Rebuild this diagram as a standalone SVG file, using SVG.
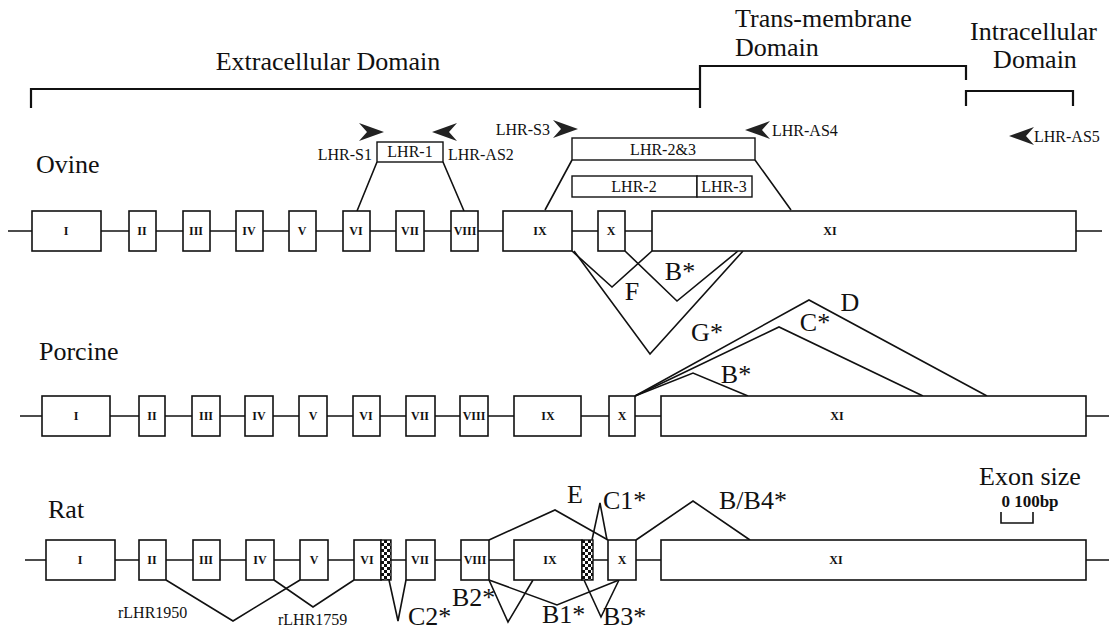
<svg xmlns="http://www.w3.org/2000/svg" xmlns:xlink="http://www.w3.org/1999/xlink" width="1112" height="631" viewBox="0 0 1112 631">
<style>
.big{font-family:"Liberation Serif","Times New Roman",serif;font-size:26px;fill:#111}
.pr{font-family:"Liberation Serif","Times New Roman",serif;font-size:16px;fill:#111}
.rn{font-family:"Liberation Serif","Times New Roman",serif;font-size:12px;font-weight:bold;fill:#111;text-anchor:middle}
.ex{fill:#fff;stroke:#111;stroke-width:1.6}
.ln{fill:none;stroke:#111;stroke-width:1.6}
.br{fill:none;stroke:#111;stroke-width:2.2}
.bx{fill:#fff;stroke:#111;stroke-width:1.4}
.hat{fill:url(#chk);stroke:#111;stroke-width:1.4}
</style>
<defs>
<pattern id="chk" width="6" height="6" patternUnits="userSpaceOnUse">
<rect width="6" height="6" fill="#fff"/>
<rect width="3" height="3" fill="#111"/>
<rect x="3" y="3" width="3" height="3" fill="#111"/>
</pattern>
<path id="arrR" d="M0,0 L-25,-9 L-17,0 L-25,9 Z" fill="#222"/>
<path id="arrL" d="M0,0 L25,-9 L17,0 L25,9 Z" fill="#222"/>
</defs>
<rect width="1112" height="631" fill="#fff"/>

<g id="domains">
<path class="br" d="M31,108 V89 H700"/>
<path class="br" d="M700,108 V66 H966 V80"/>
<path class="br" d="M966,106 V91 H1073 V106"/>
<text class="big" x="328" y="70" text-anchor="middle">Extracellular Domain</text>
<text class="big" x="735" y="27">Trans-membrane</text>
<text class="big" x="735" y="56">Domain</text>
<text class="big" x="970" y="40">Intracellular</text>
<text class="big" x="1035" y="68" text-anchor="middle">Domain</text>
</g>

<g id="primers">
<use xlink:href="#arrR" x="384" y="132"/>
<use xlink:href="#arrL" x="432" y="132"/>
<text class="pr" x="372" y="160" text-anchor="end">LHR-S1</text>
<text class="pr" x="448" y="160">LHR-AS2</text>
<text class="pr" x="550" y="135" text-anchor="end">LHR-S3</text>
<use xlink:href="#arrR" x="578" y="129"/>
<use xlink:href="#arrL" x="745" y="130"/>
<text class="pr" x="772" y="136">LHR-AS4</text>
<use xlink:href="#arrL" x="1009" y="136"/>
<text class="pr" x="1034" y="142">LHR-AS5</text>
</g>

<g id="probe-LHR-1">
<rect class="bx" x="377" y="142" width="66" height="20"/>
<text class="pr" x="410" y="157" text-anchor="middle">LHR-1</text>
</g>
<g id="probe-LHR-2and3">
<rect class="bx" x="572" y="138" width="183" height="22"/>
<text class="pr" x="663" y="155" text-anchor="middle">LHR-2&amp;3</text>
</g>
<g id="probe-LHR-2">
<rect class="bx" x="572" y="176" width="125" height="21"/>
<text class="pr" x="634" y="192" text-anchor="middle">LHR-2</text>
</g>
<g id="probe-LHR-3">
<rect class="bx" x="697" y="176" width="55" height="21"/>
<text class="pr" x="724" y="192" text-anchor="middle">LHR-3</text>
</g>

<text class="big" x="36" y="173">Ovine</text>
<text class="big" x="39" y="360">Porcine</text>
<text class="big" x="48" y="518">Rat</text>

<g id="connectors">
<path class="ln" d="M377,162 L357,211 M443,162 L464,211"/>
<path class="ln" d="M572,160 L545,210 M755,160 L791,210"/>
<path class="ln" d="M8,231 H1102"/>
<path class="ln" d="M20,416 H1109"/>
<path class="ln" d="M25,560 H1109"/>
<path class="ln" d="M572,251 L612,287 L652,251"/>
<path class="ln" d="M574,251 L650,354 L743,251"/>
<path class="ln" d="M625,251 L677,301 L738,251"/>
<path class="ln" d="M635,396 L693,373 L748,396"/>
<path class="ln" d="M635,396 L779,327 L923,396"/>
<path class="ln" d="M635,396 L809,300 L987,396"/>
<path class="ln" d="M166,580 L233,621 L300,580"/>
<path class="ln" d="M274,580 L313,607 L354,580"/>
<path class="ln" d="M389,580 L398,621 L406,580"/>
<path class="ln" d="M489,580 L508,622 L533,580"/>
<path class="ln" d="M489,580 L557,605 L619,580"/>
<path class="ln" d="M584,580 L601,617 L619,580"/>
<path class="ln" d="M489,540 L555,510 L608,540"/>
<path class="ln" d="M592,540 L600,503 L607,540"/>
<path class="ln" d="M636,540 L693,501 L750,540"/>
</g>

<g id="ovine-exons">
<g id="ov-I"><rect class="ex" x="32" y="211" width="69" height="40"/><text class="rn" x="66" y="235">I</text></g>
<g id="ov-II"><rect class="ex" x="129" y="211" width="27" height="40"/><text class="rn" x="142" y="235">II</text></g>
<g id="ov-III"><rect class="ex" x="183" y="211" width="27" height="40"/><text class="rn" x="196" y="235">III</text></g>
<g id="ov-IV"><rect class="ex" x="236" y="211" width="27" height="40"/><text class="rn" x="249" y="235">IV</text></g>
<g id="ov-V"><rect class="ex" x="289" y="211" width="27" height="40"/><text class="rn" x="302" y="235">V</text></g>
<g id="ov-VI"><rect class="ex" x="343" y="211" width="27" height="40"/><text class="rn" x="356" y="235">VI</text></g>
<g id="ov-VII"><rect class="ex" x="396" y="211" width="28" height="40"/><text class="rn" x="410" y="235">VII</text></g>
<g id="ov-VIII"><rect class="ex" x="451" y="211" width="27" height="40"/><text class="rn" x="465" y="235">VIII</text></g>
<g id="ov-IX"><rect class="ex" x="503" y="211" width="69" height="40"/><text class="rn" x="540" y="235">IX</text></g>
<g id="ov-X"><rect class="ex" x="598" y="211" width="27" height="40"/><text class="rn" x="611" y="235">X</text></g>
<g id="ov-XI"><rect class="ex" x="652" y="211" width="424" height="40"/><text class="rn" x="830" y="235">XI</text></g>
</g>

<g id="ovine-labels">
<text class="big" x="632" y="300" text-anchor="middle">F</text>
<text class="big" x="680" y="280" text-anchor="middle">B*</text>
<text class="big" x="707" y="341" text-anchor="middle">G*</text>
</g>

<g id="porcine-exons">
<g id="po-I"><rect class="ex" x="42" y="396" width="68" height="40"/><text class="rn" x="76" y="420">I</text></g>
<g id="po-II"><rect class="ex" x="139" y="396" width="26" height="40"/><text class="rn" x="152" y="420">II</text></g>
<g id="po-III"><rect class="ex" x="192" y="396" width="28" height="40"/><text class="rn" x="206" y="420">III</text></g>
<g id="po-IV"><rect class="ex" x="245" y="396" width="28" height="40"/><text class="rn" x="259" y="420">IV</text></g>
<g id="po-V"><rect class="ex" x="299" y="396" width="28" height="40"/><text class="rn" x="313" y="420">V</text></g>
<g id="po-VI"><rect class="ex" x="353" y="396" width="27" height="40"/><text class="rn" x="366" y="420">VI</text></g>
<g id="po-VII"><rect class="ex" x="406" y="396" width="29" height="40"/><text class="rn" x="420" y="420">VII</text></g>
<g id="po-VIII"><rect class="ex" x="460" y="396" width="28" height="40"/><text class="rn" x="474" y="420">VIII</text></g>
<g id="po-IX"><rect class="ex" x="514" y="396" width="67" height="40"/><text class="rn" x="548" y="420">IX</text></g>
<g id="po-X"><rect class="ex" x="609" y="396" width="26" height="40"/><text class="rn" x="622" y="420">X</text></g>
<g id="po-XI"><rect class="ex" x="661" y="396" width="425" height="40"/><text class="rn" x="837" y="420">XI</text></g>
</g>

<g id="porcine-labels">
<text class="big" x="850" y="311" text-anchor="middle">D</text>
<text class="big" x="815" y="331" text-anchor="middle">C*</text>
<text class="big" x="736" y="383" text-anchor="middle">B*</text>
</g>

<g id="rat-exons">
<g id="rat-I"><rect class="ex" x="46" y="540" width="69" height="40"/><text class="rn" x="80" y="564">I</text></g>
<g id="rat-II"><rect class="ex" x="139" y="540" width="27" height="40"/><text class="rn" x="152" y="564">II</text></g>
<g id="rat-III"><rect class="ex" x="193" y="540" width="27" height="40"/><text class="rn" x="206" y="564">III</text></g>
<g id="rat-IV"><rect class="ex" x="246" y="540" width="28" height="40"/><text class="rn" x="260" y="564">IV</text></g>
<g id="rat-V"><rect class="ex" x="300" y="540" width="28" height="40"/><text class="rn" x="314" y="564">V</text></g>
<g id="rat-VI"><rect class="ex" x="354" y="540" width="27" height="40"/><text class="rn" x="367" y="564">VI</text></g>
<g id="rat-VIa"><rect class="hat" x="381" y="540" width="10" height="40"/></g>
<g id="rat-VII"><rect class="ex" x="406" y="540" width="29" height="40"/><text class="rn" x="420" y="564">VII</text></g>
<g id="rat-VIII"><rect class="ex" x="461" y="540" width="28" height="40"/><text class="rn" x="475" y="564">VIII</text></g>
<g id="rat-IX"><rect class="ex" x="514" y="540" width="68" height="40"/><text class="rn" x="550" y="564">IX</text></g>
<g id="rat-IXa"><rect class="hat" x="582" y="540" width="11" height="40"/></g>
<g id="rat-X"><rect class="ex" x="608" y="540" width="28" height="40"/><text class="rn" x="622" y="564">X</text></g>
<g id="rat-XI"><rect class="ex" x="661" y="540" width="425" height="40"/><text class="rn" x="836" y="564">XI</text></g>
</g>

<g id="rat-labels">
<text class="pr" x="118" y="618">rLHR1950</text>
<text class="pr" x="278" y="625">rLHR1759</text>
<text class="big" x="408" y="625">C2*</text>
<text class="big" x="452" y="606">B2*</text>
<text class="big" x="542" y="623">B1*</text>
<text class="big" x="603" y="625">B3*</text>
<text class="big" x="567" y="503">E</text>
<text class="big" x="603" y="509">C1*</text>
<text class="big" x="719" y="509">B/B4*</text>
</g>

<g id="scale">
<text class="big" x="1030" y="485" text-anchor="middle">Exon size</text>
<text x="1030" y="507" text-anchor="middle" style="font-family:'Liberation Serif',serif;font-size:17px;font-weight:bold;fill:#111">0 100bp</text>
<path class="ln" d="M1001,512 V523 H1033 V512"/>
</g>
</svg>
